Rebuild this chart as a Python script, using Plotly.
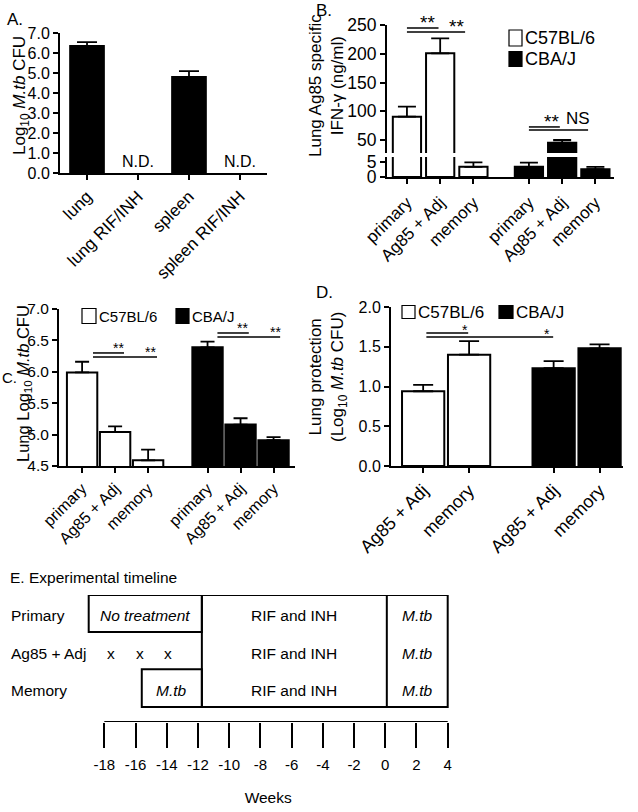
import plotly.graph_objects as go

W, H = 638, 812
FONT = "Liberation Sans, Arial, sans-serif"


def px(x):
    return x / W


def py(y):
    return 1 - y / H


# ---------------- data ----------------
# Panel A (None = not detected)
a_cats = ["lung", "lung RIF/INH", "spleen", "spleen RIF/INH"]
a_mean = [6.36, None, 4.81, None]
a_sem = [0.18, 0.0, 0.28, 0.0]
a_nd = ["", "N.D.", "", "N.D."]

# Panel B (IFN-gamma, ng/ml)
b_cats = ["primary", "Ag85 + Adj", "memory"]
b_c57 = [90.5, 200.8, 3.4]
b_c57_sem = [17.5, 26.0, 1.5]
b_cba = [3.4, 45.3, 2.6]
b_cba_sem = [1.4, 4.7, 0.8]

# Panel C (Lung log10 CFU)
c_cats = ["primary", "Ag85 + Adj", "memory"]
c_c57 = [5.99, 5.04, 4.59]
c_c57_sem = [0.17, 0.09, 0.17]
c_cba = [6.39, 5.16, 4.91]
c_cba_sem = [0.09, 0.10, 0.05]

# Panel D (Lung protection)
d_cats = ["Ag85 + Adj", "memory"]
d_c57 = [0.94, 1.40]
d_c57_sem = [0.08, 0.17]
d_cba = [1.23, 1.48]
d_cba_sem = [0.09, 0.05]

# Panel E (timeline, weeks)
e_rows = ["Primary", "Ag85 + Adj", "Memory"]
e_weeks = [-18, -16, -14, -12, -10, -8, -6, -4, -2, 0, 2, 4]
e_start = -19.0          # left edge of "No treatment"
e_drug_start = -11.75    # RIF and INH start
e_challenge = 0.1        # M.tb challenge
e_end = 4.0
e_memory_infect = -15.6
e_vaccinations = [-17.6, -15.7, -13.9]

series_names = ["C57BL/6", "CBA/J"]

# ---------------- figure ----------------
fig = go.Figure()


def err(sem, width, thick=1.8):
    return dict(type="data", symmetric=False, array=sem,
                arrayminus=[0] * len(sem), color="black",
                thickness=thick, width=width)


# A
fig.add_trace(go.Bar(x=list(range(len(a_cats))), y=a_mean, width=0.67,
                     marker=dict(color="black", line=dict(color="black", width=1.5)),
                     error_y=err(a_sem, 10), xaxis="x", yaxis="y", showlegend=False))

# B
b_x1 = [i for i in range(3)]
b_x2 = [i + 3.67 for i in range(3)]
for yax in ["y2", "y3"]:
    fig.add_trace(go.Bar(x=b_x1, y=b_c57, width=0.85, name=series_names[0],
                         marker=dict(color="white", line=dict(color="black", width=2)),
                         error_y=err(b_c57_sem, 9), xaxis="x2", yaxis=yax, showlegend=False))
    fig.add_trace(go.Bar(x=b_x2, y=b_cba, width=0.85, name=series_names[1],
                         marker=dict(color="black", line=dict(color="black", width=2)),
                         error_y=err(b_cba_sem, 9), xaxis="x2", yaxis=yax, showlegend=False))

# C
c_x1 = [i for i in range(3)]
c_x2 = [i + 3.8 for i in range(3)]
fig.add_trace(go.Bar(x=c_x1, y=c_c57, width=0.92, name=series_names[0],
                     marker=dict(color="white", line=dict(color="black", width=2)),
                     error_y=err(c_c57_sem, 7), xaxis="x3", yaxis="y4", showlegend=False))
fig.add_trace(go.Bar(x=c_x2, y=c_cba, width=0.92, name=series_names[1],
                     marker=dict(color="black", line=dict(color="black", width=2)),
                     error_y=err(c_cba_sem, 7), xaxis="x3", yaxis="y4", showlegend=False))

# D
d_x1 = [i for i in range(2)]
d_x2 = [i + 2.84 for i in range(2)]
fig.add_trace(go.Bar(x=d_x1, y=d_c57, width=0.92, name=series_names[0],
                     marker=dict(color="white", line=dict(color="black", width=2)),
                     error_y=err(d_c57_sem, 10), xaxis="x4", yaxis="y5", showlegend=False))
fig.add_trace(go.Bar(x=d_x2, y=d_cba, width=0.92, name=series_names[1],
                     marker=dict(color="black", line=dict(color="black", width=2)),
                     error_y=err(d_cba_sem, 10), xaxis="x4", yaxis="y5", showlegend=False))

# E - baseline of the week axis
fig.add_trace(go.Scatter(x=[e_weeks[0], e_weeks[-1]], y=[0, 0], mode="lines",
                         line=dict(color="black", width=2), xaxis="x5", yaxis="y6",
                         showlegend=False, hoverinfo="skip", cliponaxis=False))


def tf(size):
    return dict(family=FONT, size=size, color="black")


axis_common = dict(showline=True, linecolor="black", linewidth=2, ticks="outside",
                   ticklen=5, tickwidth=1.5, tickcolor="black", showgrid=False,
                   zeroline=False, fixedrange=True, automargin=False,
                   tickfont=tf(16))

layout = dict(
    template="none",
    width=W, height=H, margin=dict(l=0, r=0, t=0, b=0, pad=0, autoexpand=False),
    paper_bgcolor="white", plot_bgcolor="rgba(0,0,0,0)",
    font=dict(family=FONT, size=16, color="black"),
    barmode="overlay", showlegend=False,
)

layout["xaxis"] = dict(axis_common, domain=[px(60), px(267)], range=[-0.53, 3.53],
                       anchor="y", tickvals=list(range(4)), ticktext=a_cats, tickangle=-45,
                       tickfont=tf(17))
layout["yaxis"] = dict(axis_common, domain=[py(173), py(33)], range=[0, 7], anchor="x",
                       tickvals=list(range(8)), tickformat=".1f")

layout["xaxis2"] = dict(axis_common, domain=[px(387), px(614)], range=[-0.6, 6.23],
                        anchor="y2", tickvals=b_x1 + b_x2, ticktext=b_cats * 2, tickangle=-45,
                        tickfont=tf(17), ticklabelstandoff=2)
layout["yaxis2"] = dict(axis_common, domain=[py(177), py(157)], range=[0, 6.7], anchor="x2",
                        tickvals=[0, 5], tickfont=tf(17.5))
layout["yaxis3"] = dict(axis_common, domain=[py(153), py(25)], range=[27.4, 250], anchor="x2",
                        tickvals=[50, 100, 150, 200, 250], tickfont=tf(17.5))

layout["xaxis3"] = dict(axis_common, domain=[px(59), px(295)], range=[-0.7, 6.45],
                        anchor="y4", tickvals=c_x1 + c_x2, ticktext=c_cats * 2, tickangle=-45,
                        tickfont=tf(16))
layout["yaxis4"] = dict(axis_common, domain=[py(466), py(309)], range=[4.5, 7], anchor="x3",
                        tickvals=[4.5, 5.0, 5.5, 6.0, 6.5, 7.0], tickformat=".1f",
                        tickfont=tf(15.5))

layout["xaxis4"] = dict(axis_common, domain=[px(391), px(623)], range=[-0.7, 4.35],
                        anchor="y5", tickvals=d_x1 + d_x2, ticktext=d_cats * 2, tickangle=-45,
                        tickfont=tf(18))
layout["yaxis5"] = dict(axis_common, domain=[py(466), py(307)], range=[0, 2], anchor="x4",
                        tickvals=[0, 0.5, 1.0, 1.5, 2.0], tickformat=".1f",
                        tickfont=tf(16))

layout["xaxis5"] = dict(axis_common, domain=[px(80.9), px(455.5)], range=[-19.5, 4.5],
                        anchor="y6", tickvals=e_weeks, ticktext=[str(w) for w in e_weeks],
                        showline=False, ticklen=25, tickwidth=2, tickfont=tf(15),
                        ticklabelstandoff=4,
                        title=dict(text="Weeks", standoff=20, font=tf(15.5)))
layout["yaxis6"] = dict(domain=[py(722), py(595)], range=[0, 3.387], visible=False,
                        anchor="x5", fixedrange=True, automargin=False)

fig.update_layout(**layout)

shapes = []
annos = []


def txt(x, y, text, size=16, xanchor="center", yanchor="middle", xref="paper", yref="paper",
        angle=0, italic=False):
    annos.append(dict(x=x, y=y, text=text, xref=xref, yref=yref, showarrow=False,
                      xanchor=xanchor, yanchor=yanchor, textangle=angle,
                      font=dict(family=FONT, size=size, color="black",
                                style="italic" if italic else "normal")))


# panel labels
txt(px(5), py(19), "A.", 17, xanchor="left")
txt(px(314), py(10), "B.", 17, xanchor="left")
txt(px(0), py(377), "C.", 15, xanchor="left")
txt(px(314), py(293), "D.", 17, xanchor="left")
txt(px(8), py(577), "E. Experimental timeline", 15.5, xanchor="left")

# axis titles
txt(px(21), py(96), "Log<sub>10</sub> <i>M.tb</i> CFU", 17, angle=-90)
txt(px(326), py(86), "Lung Ag85 specific<br>IFN-γ (ng/ml)", 17, angle=-90)
txt(px(24), py(384), "Lung Log<sub>10</sub> <i>M.tb</i> CFU", 16.5, angle=-90)
txt(px(328), py(377), "Lung protection<br>(Log<sub>10</sub> <i>M.tb</i> CFU)", 17, angle=-90)

# N.D. labels
for i, t in enumerate(a_nd):
    if t:
        txt(i, 0.05, t, 16, yanchor="bottom", xref="x", yref="y")

# significance bars: (x0, x1, y, label, label_x, xref, yref)
sig = [
    (0.0, 0.95, 244.8, "**", 0.62, "x2", "y3"),
    (0.0, 1.75, 237.8, "**", 1.5, "x2", "y3"),
    (3.67, 4.6, 72.7, "**", 4.35, "x2", "y3"),
    (3.67, 5.45, 67.5, "NS", 5.15, "x2", "y3"),
    (0.33, 1.27, 6.30, "**", 1.1, "x3", "y4"),
    (0.33, 2.27, 6.236, "**", 2.07, "x3", "y4"),
    (4.1, 5.05, 6.618, "**", 4.85, "x3", "y4"),
    (4.1, 6.0, 6.554, "**", 5.85, "x3", "y4"),
    (0.07, 0.98, 1.673, "*", 0.91, "x4", "y5"),
    (0.07, 2.83, 1.623, "*", 2.7, "x4", "y5"),
]
for x0, x1, y, lab, lx, xr, yr in sig:
    shapes.append(dict(type="line", xref=xr, yref=yr, x0=x0, x1=x1, y0=y, y1=y,
                       line=dict(color="black", width=1.5)))
    big = yr == "y3"
    if lab == "NS":
        txt(lx, y, lab, 17, yanchor="bottom", xref=xr, yref=yr)
    else:
        annos.append(dict(x=lx, y=y, text=lab, xref=xr, yref=yr, showarrow=False,
                          xanchor="center", yanchor="bottom",
                          yshift=-7 if big else (-7 if yr == "y5" else -5),
                          font=dict(family=FONT, size=19 if big else 14, color="black")))


# legends (boxes + labels)
def legend_item(x, yc, wbox, hbox, fill, label, size):
    shapes.append(dict(type="rect", xref="paper", yref="paper",
                       x0=px(x), x1=px(x + wbox), y0=py(yc + hbox / 2), y1=py(yc - hbox / 2),
                       fillcolor=fill, line=dict(color="black", width=1.2)))
    txt(px(x + wbox + 1), py(yc), label, size, xanchor="left")


legend_item(509, 38, 13, 16, "white", series_names[0], 18)
legend_item(509, 59, 13, 15, "black", series_names[1], 18)
legend_item(82, 316, 14, 15, "white", series_names[0], 15)
legend_item(176, 316, 13, 15, "black", series_names[1], 15)
legend_item(402, 312, 13, 13, "white", series_names[0], 17)
legend_item(499, 312, 14, 13, "black", series_names[1], 17)

# timeline
row_y = [2.85, 1.84, 0.85]
box_top, prim_bottom, mem_top, box_bottom = 3.387, 2.4, 1.41, 0.4
ln = dict(color="black", width=2)
shapes.append(dict(type="rect", xref="x5", yref="y6", x0=e_start, x1=e_drug_start,
                   y0=prim_bottom, y1=box_top, line=ln))
shapes.append(dict(type="rect", xref="x5", yref="y6", x0=e_drug_start, x1=e_end,
                   y0=box_bottom, y1=box_top, line=ln))
shapes.append(dict(type="line", xref="x5", yref="y6", x0=e_challenge, x1=e_challenge,
                   y0=box_bottom, y1=box_top, line=ln))
shapes.append(dict(type="rect", xref="x5", yref="y6", x0=e_memory_infect, x1=e_drug_start,
                   y0=box_bottom, y1=mem_top, line=ln))

for name, ry in zip(e_rows, row_y):
    txt(px(9), ry, name, 15.5, xanchor="left", yref="y6")
    txt((e_drug_start + e_challenge) / 2, ry, "RIF and INH", 15.5, xref="x5", yref="y6")
    txt((e_challenge + e_end) / 2, ry, "M.tb", 15.5, xref="x5", yref="y6", italic=True)
txt((e_start + e_drug_start) / 2, row_y[0], "No treatment", 15.5, xref="x5", yref="y6", italic=True)
txt((e_memory_infect + e_drug_start) / 2, row_y[2], "M.tb", 15.5, xref="x5", yref="y6", italic=True)
for vx in e_vaccinations:
    txt(vx, row_y[1], "x", 15.5, xref="x5", yref="y6")

fig.update_layout(shapes=shapes, annotations=annos)
fig.write_html("out.html", config={"displayModeBar": False},
               post_script="document.body.style.margin='0';document.body.style.overflow='hidden';")
